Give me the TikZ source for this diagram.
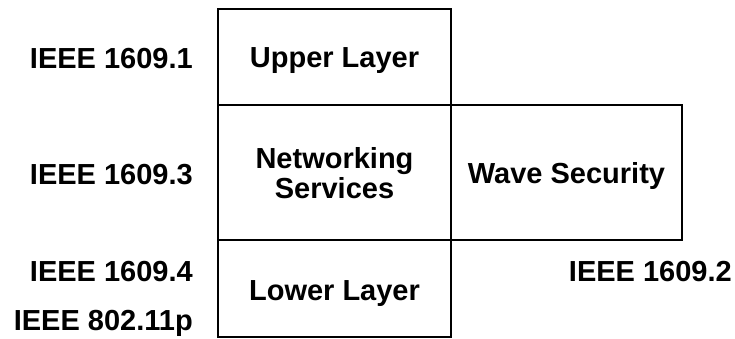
\documentclass[tikz,border=0pt]{standalone}
\usepackage{fontspec}
\setmainfont{Liberation Sans}
\begin{document}
\begin{tikzpicture}[x=1pt,y=-1pt,
  box/.style={draw, line width=1.8pt, minimum width=233pt, inner sep=0pt},
  lbl/.style={font=\fontsize{29}{30}\selectfont\bfseries, inner sep=0pt}]
\useasboundingbox (0,0) rectangle (735,339);
% boxes
\node[box, minimum height=96pt] (up) at (334.5,57) {};
\node[box, minimum height=135pt] (net) at (334.5,172.5) {};
\node[box, minimum height=97pt] (low) at (334.5,288.5) {};
\node[box, minimum width=231pt, minimum height=135pt] (wave) at (566.5,172.5) {};
% box texts
\node[lbl, anchor=base] (tup) at (334.5,67.7) {Upper Layer};
\node[lbl, anchor=base] (tnet1) at (334.5,168.3) {Networking};
\node[lbl, anchor=base] (tnet2) at (334.5,198.3) {Services};
\node[lbl, anchor=base] (tlow) at (334.5,300.7) {Lower Layer};
\node[lbl, anchor=base] (twave) at (566.5,183.3) {Wave Security};
% standard labels
\node[lbl, anchor=base east] (s1) at (193,68.3) {IEEE 1609.1};
\node[lbl, anchor=base east] (s3) at (193,184.3) {IEEE 1609.3};
\node[lbl, anchor=base east] (s4) at (193,281.7) {IEEE 1609.4};
\node[lbl, anchor=base east] (s80) at (193,330.5) {IEEE 802.11p};
\node[lbl, anchor=base east] (s2) at (732,281.7) {IEEE 1609.2};
\end{tikzpicture}
\end{document}
